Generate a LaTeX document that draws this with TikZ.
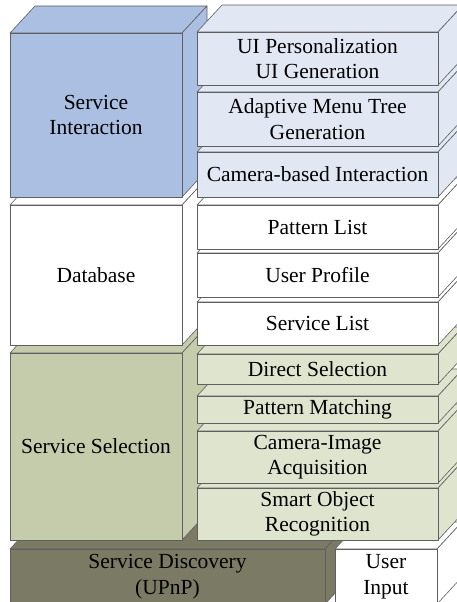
\documentclass[tikz,border=0pt]{standalone}
\usepackage{fontspec}
\setmainfont{Liberation Serif}

\definecolor{blueDark}{HTML}{AABFE2}
\definecolor{blueLight}{HTML}{E2E7F4}
\definecolor{greenDark}{HTML}{C4CCAB}
\definecolor{greenLight}{HTML}{DEE4CE}
\definecolor{olive}{HTML}{7B7B65}
\definecolor{edge}{HTML}{5F5F5F}

\tikzset{
	face/.style={draw=edge, line width=0.6pt, line join=round},
	label/.style={align=center, font=\rmfamily\fontsize{21.5}{25.5}\selectfont, inner sep=0pt}
}

% one block: name, colour, x1, y1, x2, y2, text
\newcommand{\layerbox}[7]{%
	\filldraw[face, fill=#2] (#3,#4) -- ++(25,-27) -- ++(#5-#3,0) -- (#5,#4) -- cycle;
	\filldraw[face, fill=#2] (#5,#4) -- ++(25,-27) -- ++(0,#6-#4) -- (#5,#6) -- cycle;
	\filldraw[face, fill=#2] (#3,#4) rectangle (#5,#6);
	\node[label] (#1) at ({(#3+#5)/2},{(#4+#6)/2}) {#7};
}

\begin{document}
\begin{tikzpicture}[x=1pt, y=-1pt]
	
	\clip (0,0) rectangle (457,602);
	
	% bottom row
	\layerbox{discovery}{olive}{10}{549}{325}{604}{Service Discovery\\(UPnP)}
	\layerbox{input}{white}{335}{549}{437}{604}{User\\Input}
	
	% service selection
	\layerbox{selection}{greenDark}{10}{353}{182}{540}{Service Selection}
	\layerbox{smart}{greenLight}{197}{488}{438}{540}{Smart Object\\Recognition}
	\layerbox{acquisition}{greenLight}{197}{431}{438}{483}{Camera-Image\\Acquisition}
	\layerbox{matching}{greenLight}{197}{396}{438}{423}{Pattern Matching}
	\layerbox{direct}{greenLight}{197}{354}{438}{384}{Direct Selection}
	
	% database
	\layerbox{database}{white}{10}{205}{182}{345}{Database}
	\layerbox{servicelist}{white}{197}{302}{438}{345}{Service List}
	\layerbox{profile}{white}{197}{253}{438}{297}{User Profile}
	\layerbox{patternlist}{white}{197}{205}{438}{249}{Pattern List}
	
	% service interaction
	\layerbox{interaction}{blueDark}{10}{33}{182}{197}{Service\\Interaction}
	\layerbox{camera}{blueLight}{197}{152}{438}{197}{Camera-based Interaction}
	\layerbox{menutree}{blueLight}{197}{92}{438}{146}{Adaptive Menu Tree\\Generation}
	\layerbox{personal}{blueLight}{197}{32}{438}{85}{UI Personalization\\UI Generation}
	
\end{tikzpicture}
\end{document}
